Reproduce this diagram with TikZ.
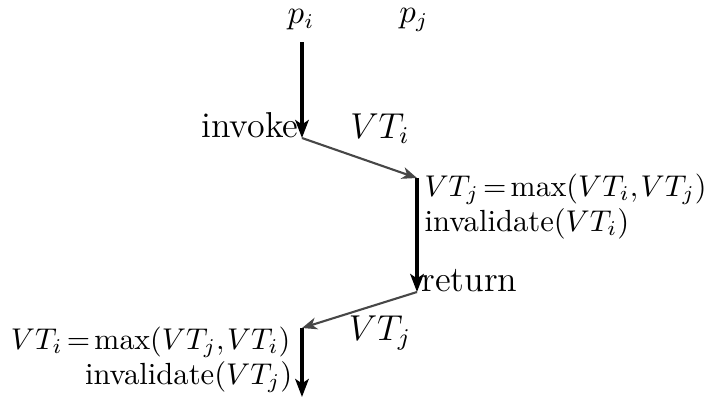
\documentclass[tikz,border=0pt]{standalone}
\usetikzlibrary{arrows.meta}
\begin{document}
\begin{tikzpicture}[x=0.3333pt,y=-0.3333pt,
  every node/.style={font=\fontsize{10.2}{12.5}\selectfont, inner sep=1pt},
  big/.style={font=\fontsize{12}{14}\selectfont},
  eqn/.style={execute at begin node={\thickmuskip=2.5mu plus 1mu\thinmuskip=1.5mu}},
  proc/.style={line width=1.2pt,-{Stealth[length=6pt,width=4.5pt,inset=1.5pt]}},
  msg/.style={line width=0.7pt,draw=black!72,-{Stealth[length=5pt,width=4pt,inset=1.5pt]}}]
\useasboundingbox (0,0) rectangle (709,403);
\node[font=\fontsize{10.6}{12.5}\selectfont] (pi) at (301,20) {$p_i$};
\node[font=\fontsize{10.6}{12.5}\selectfont] (pj) at (414,20) {$p_j$};
\coordinate (a0) at (302,42);
\coordinate (a1) at (302,138);
\coordinate (b1) at (417,178);
\coordinate (b2) at (417,292);
\coordinate (a2) at (302,328);
\coordinate (a3) at (302,397);
\draw[proc] (a0) -- (a1);
\draw[msg] (a1) -- (b1);
\draw[proc] (b1) -- (b2);
\draw[msg] (b2) -- (a2);
\draw[proc] (a2) -- (a3);
\node[big,anchor=base east] (inv) at (302,137) {invoke};
\node[big,anchor=base] (vti) at (380,138) {$VT_i$};
\node[eqn,anchor=base west] (max1) at (421,196) {$VT_j=\max(VT_i,VT_j)$};
\node[anchor=base west] (inv1) at (421,231) {invalidate($VT_i$)};
\node[big,anchor=base west] (ret) at (418,291) {return};
\node[big,anchor=base] (vtj) at (380,340) {$VT_j$};
\node[eqn,anchor=base east] (max2) at (294,349) {$VT_i=\max(VT_j,VT_i)$};
\node[anchor=base east] (inv2) at (296,384) {invalidate($VT_j$)};
\end{tikzpicture}
\end{document}
